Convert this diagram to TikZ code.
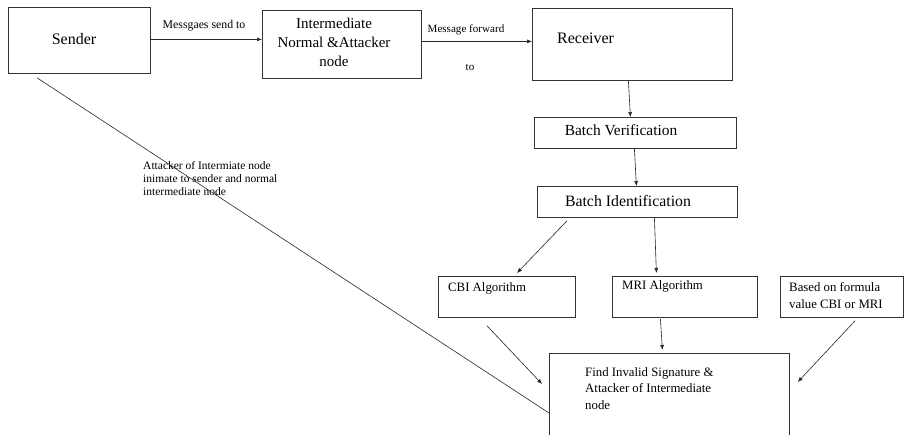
\documentclass[tikz,border=0pt]{standalone}
\usepackage{fontspec}
\setmainfont{Liberation Serif}
\usetikzlibrary{arrows.meta}
\begin{document}
\begin{tikzpicture}[x=1pt,y=-1pt,
  box/.style={draw=black!80,line width=0.8pt,anchor=north west,inner sep=0pt,rectangle},
  conn/.style={draw=black!85,line width=0.6pt,-{Latex[length=5pt,width=4pt]}},
  plain/.style={draw=black!85,line width=0.6pt},
  lbl/.style={inner sep=0pt,font=\fontsize{11.5}{13}\selectfont},
  big/.style={inner sep=0pt,font=\fontsize{16}{19}\selectfont},
  mid/.style={inner sep=0pt,font=\fontsize{12.8}{16.5}\selectfont}]
\useasboundingbox (0,0) rectangle (904,434);
% boxes
\node[box,minimum width=142pt,minimum height=66pt] (sender) at (8,7) {};
\node[box,minimum width=159pt,minimum height=68pt] (inter) at (262,10) {};
\node[box,minimum width=200pt,minimum height=72pt] (recv) at (532,8) {};
\node[box,minimum width=202pt,minimum height=31pt] (bv) at (534,117) {};
\node[box,minimum width=200pt,minimum height=31pt] (bi) at (537,186) {};
\node[box,minimum width=137pt,minimum height=41pt] (cbi) at (438,276) {};
\node[box,minimum width=145pt,minimum height=41pt] (mri) at (612,276) {};
\node[box,minimum width=123pt,minimum height=41pt] (based) at (780,276) {};
\node[box,minimum width=240pt,minimum height=90pt] (find) at (549,353) {};
% texts
\node[big] (tsender) at (74,39) {Sender};
\node[big,align=center,font=\fontsize{15}{19}\selectfont] (tinter) at (334,42) {Intermediate\\Normal \&Attacker\\node};
\node[big,anchor=west] (trecv) at (557,38) {Receiver};
\node[big,font=\fontsize{15.4}{19}\selectfont] (tbv) at (621,130) {Batch Verification};
\node[big,font=\fontsize{15.8}{19}\selectfont] (tbi) at (628,201) {Batch Identification};
\node[mid,anchor=west] (tcbi) at (448,288) {CBI Algorithm};
\node[mid,anchor=west] (tmri) at (622,286) {MRI Algorithm};
\node[mid,anchor=west,align=left] (tbased) at (789,295.5) {Based on formula\\value CBI or MRI};
\node[mid,anchor=west,align=left] (tfind) at (585,388.5) {Find Invalid Signature \&\\Attacker of Intermediate\\node};
\node[lbl,anchor=west,align=left] (tatt) at (143,178.5) {Attacker of Intermiate node\\inimate to sender and normal\\intermediate node};
\node[lbl,font=\fontsize{11.8}{13}\selectfont] (tsend) at (204,26) {Messgaes send to};
\node[lbl,font=\fontsize{11.1}{13}\selectfont] (tfwd) at (466,30) {Message forward};
\node[lbl,font=\fontsize{11.1}{13}\selectfont] (tto) at (470,67) {to};
% connectors
\draw[conn] ([yshift=1pt]sender.east) -- ([yshift=1pt]sender.east -| inter.west);
\draw[conn] ([yshift=3pt]inter.east) -- ([yshift=3pt]inter.east -| recv.west);
\draw[conn] ([xshift=-4pt]recv.south) -- ([xshift=-5pt]bv.north);
\draw[conn] ([xshift=-1pt]bv.south) -- ([xshift=-1pt]bi.north);
\draw[conn] ([xshift=30pt,yshift=-3pt]bi.south west) -- ([xshift=79pt,yshift=3pt]cbi.north west);
\draw[conn] ([xshift=17pt]bi.south) -- ([xshift=-28.5pt,yshift=3pt]mri.north);
\draw[conn] ([xshift=49pt,yshift=-8pt]cbi.south west) -- ([xshift=-7pt,yshift=-31pt]find.north west);
\draw[conn] ([xshift=-24.5pt,yshift=-1pt]mri.south) -- ([xshift=-7pt,yshift=3pt]find.north);
\draw[conn] ([xshift=75pt,yshift=-3pt]based.south west) -- ([xshift=8pt,yshift=-29pt]find.north east);
\draw[plain] ([xshift=29pt,yshift=-4pt]sender.south west) -- ([yshift=-60pt]find.north west);
\end{tikzpicture}
\end{document}
